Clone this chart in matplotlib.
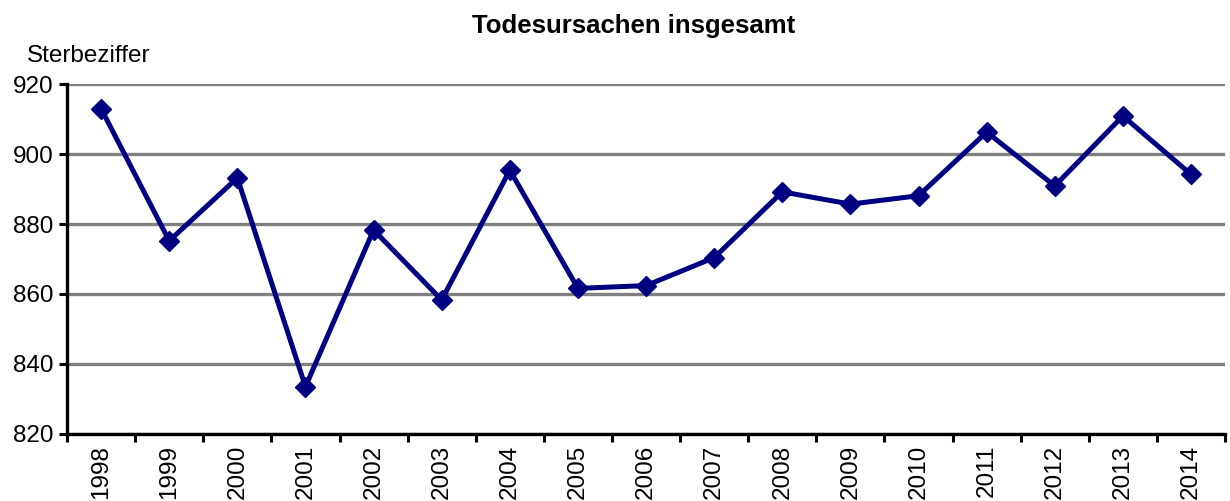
import matplotlib
matplotlib.use("Agg")
import matplotlib.pyplot as plt
from matplotlib.ticker import FixedLocator, NullFormatter

plt.rcParams['font.family'] = ['Liberation Sans', 'DejaVu Sans']

years = ['1998', '1999', '2000', '2001', '2002', '2003', '2004', '2005', '2006',
         '2007', '2008', '2009', '2010', '2011', '2012', '2013', '2014']
values = [913.0, 875.2, 893.2, 833.5, 878.3, 858.3, 895.4, 861.6, 862.4,
          870.4, 889.2, 885.7, 888.1, 906.3, 890.9, 910.9, 894.2]
y_ticks = [820, 840, 860, 880, 900, 920]

fig = plt.figure(figsize=(12.3, 5.01), dpi=100)
ax = fig.add_axes([0.0545, 0.134, 0.9415, 0.698])

x = list(range(len(years)))
ax.plot(x, values, color='#000080', linewidth=3.6, marker='D', markersize=10.5,
        markerfacecolor='#000080', markeredgecolor='#000080', zorder=3, clip_on=False)

ax.set_xlim(-0.5, len(years) - 0.5)
ax.set_ylim(820, 920)
ax.set_yticks(y_ticks)
ax.set_yticklabels([str(t) for t in y_ticks], fontsize=17.5)

ax.yaxis.grid(True, color='#808080', linewidth=2.4)
ax.set_axisbelow(True)

# boundary ticks (major), labels on minor
ax.xaxis.set_major_locator(FixedLocator([i - 0.5 for i in range(len(years) + 1)]))
ax.xaxis.set_major_formatter(NullFormatter())
ax.xaxis.set_minor_locator(FixedLocator(x))
ax.set_xticklabels(years, minor=True, rotation=90, fontsize=17.5)
ax.tick_params(axis='x', which='major', direction='out', length=6, width=2.2, color='black')
ax.tick_params(axis='x', which='minor', length=0, pad=8)
ax.tick_params(axis='y', direction='out', length=6, width=2.2, pad=4)

for s in ['top', 'right']:
    ax.spines[s].set_visible(False)
for s in ['left', 'bottom']:
    ax.spines[s].set_linewidth(2.4)
    ax.spines[s].set_color('black')

fig.text(0.515, 0.948, 'Todesursachen insgesamt', ha='center', va='center',
         fontsize=18.5, fontweight='bold')
fig.text(0.022, 0.888, 'Sterbeziffer', ha='left', va='center', fontsize=17.5)

fig.savefig('out.png', dpi=100)
